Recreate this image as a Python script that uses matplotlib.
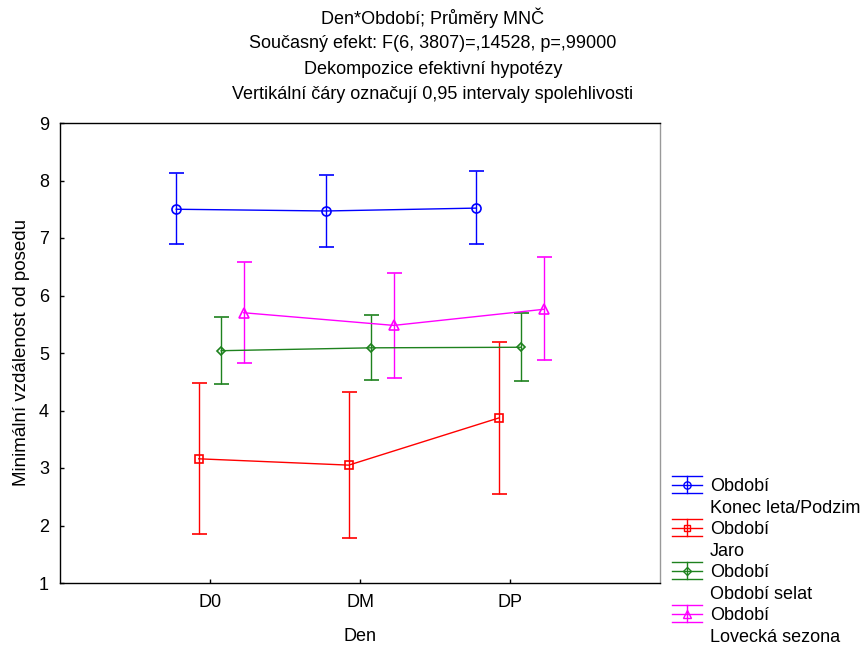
import matplotlib
matplotlib.use("Agg")
import matplotlib.pyplot as plt
from matplotlib.lines import Line2D
from matplotlib.patches import Rectangle
from matplotlib.legend_handler import HandlerBase

plt.rcParams['font.family'] = ['Liberation Sans', 'DejaVu Sans']
plt.rcParams['font.size'] = 13

# Data
days = ['D0', 'DM', 'DP']
periods = ['Konec leta/Podzim', 'Jaro', 'Období selat', 'Lovecká sezona']

mean_podzim = [7.50, 7.47, 7.52]
low_podzim = [6.89, 6.85, 6.90]
high_podzim = [8.13, 8.10, 8.17]

mean_jaro = [3.16, 3.05, 3.87]
low_jaro = [1.85, 1.78, 2.55]
high_jaro = [4.47, 4.32, 5.20]

mean_selat = [5.04, 5.09, 5.10]
low_selat = [4.46, 4.53, 4.51]
high_selat = [5.63, 5.66, 5.69]

mean_lov = [5.70, 5.48, 5.76]
low_lov = [4.83, 4.57, 4.88]
high_lov = [6.58, 6.39, 6.67]

series = [
    (mean_podzim, low_podzim, high_podzim, '#0000ff', 'o', 6.5),
    (mean_jaro, low_jaro, high_jaro, '#ff0000', 's', 6),
    (mean_selat, low_selat, high_selat, '#1e821e', 'D', 4.5),
    (mean_lov, low_lov, high_lov, '#ff00ff', '^', 6.5),
]
offsets = [-0.225, -0.075, 0.075, 0.225]


class ErrHandler(HandlerBase):
    # STATISTICA-style legend key: three horizontal lines, short vertical bar, marker
    def create_artists(self, legend, orig_handle, xdescent, ydescent,
                       width, height, fontsize, trans):
        c = orig_handle.get_color()
        m = orig_handle.get_marker()
        ms = orig_handle.get_markersize()
        x0, x1 = -xdescent, -xdescent + width
        yc = -ydescent + height / 2
        d = 0.46 * fontsize
        arts = [
            Line2D([x0, x1], [yc + d, yc + d], color=c, lw=1),
            Line2D([x0, x1], [yc - d, yc - d], color=c, lw=1),
            Line2D([x0, x1], [yc, yc], color=c, lw=1),
            Line2D([(x0 + x1) / 2] * 2, [yc - d, yc + d], color=c, lw=1),
            Line2D([(x0 + x1) / 2], [yc], color=c, marker=m, ms=ms * 0.8,
                   mfc='none', mec=c, mew=1),
        ]
        for a in arts:
            a.set_transform(trans)
        return arts


fig = plt.figure(figsize=(8.66, 6.48), dpi=100)
ax = fig.add_axes([60 / 866, 1 - 583 / 648, 600 / 866, 460 / 648])

handles, labels = [], []
for (mean, low, high, col, mk, ms), off, name in zip(series, offsets, periods):
    xs = [i + off for i in range(len(days))]
    err = [[m - lo for m, lo in zip(mean, low)], [hi - m for m, hi in zip(mean, high)]]
    ax.errorbar(xs, mean, yerr=err, color=col, lw=1, capsize=5.4, capthick=1,
                marker=mk, ms=ms, mfc='none', mec=col, mew=1.2)
    h = Line2D([], [], color=col, marker=mk, markersize=ms)
    blank = Rectangle((0, 0), 0, 0, visible=False)
    handles += [h, blank]
    labels += ['Období', name]

ax.set_xlim(-1, 3)
ax.set_ylim(1, 9)
ax.set_xticks(range(len(days)))
ax.set_xticklabels(days)
ax.set_yticks(range(1, 10))
ax.tick_params(direction='in', length=3, width=1, labelsize=13, pad=8)
for s in ax.spines.values():
    s.set_linewidth(1)
ax.spines['right'].set_color('#999999')

ax.set_xlabel('Den', fontsize=13, labelpad=12)
ax.set_ylabel('Minimální vzdálenost od posedu', fontsize=13.5)
ax.yaxis.set_label_coords(-0.05, 0.5)

titles = ['Den*Období; Průměry MNČ',
          'Současný efekt: F(6, 3807)=,14528, p=,99000',
          'Dekompozice efektivní hypotézy',
          'Vertikální čáry označují 0,95 intervaly spolehlivosti']
for i, t in enumerate(titles):
    fig.text(0.5, 1 - (18 + 25.5 * i) / 648, t, ha='center', va='center', fontsize=13)

hmap = {h: ErrHandler() for h in handles[::2]}
fig.legend(handles, labels, handler_map=hmap, loc='upper left',
           bbox_to_anchor=(672 / 866, 1 - 478 / 648), frameon=False,
           borderpad=0, borderaxespad=0, handlelength=1.65, handletextpad=0.45,
           labelspacing=0.25, fontsize=13)

fig.savefig('out.png', dpi=100)
